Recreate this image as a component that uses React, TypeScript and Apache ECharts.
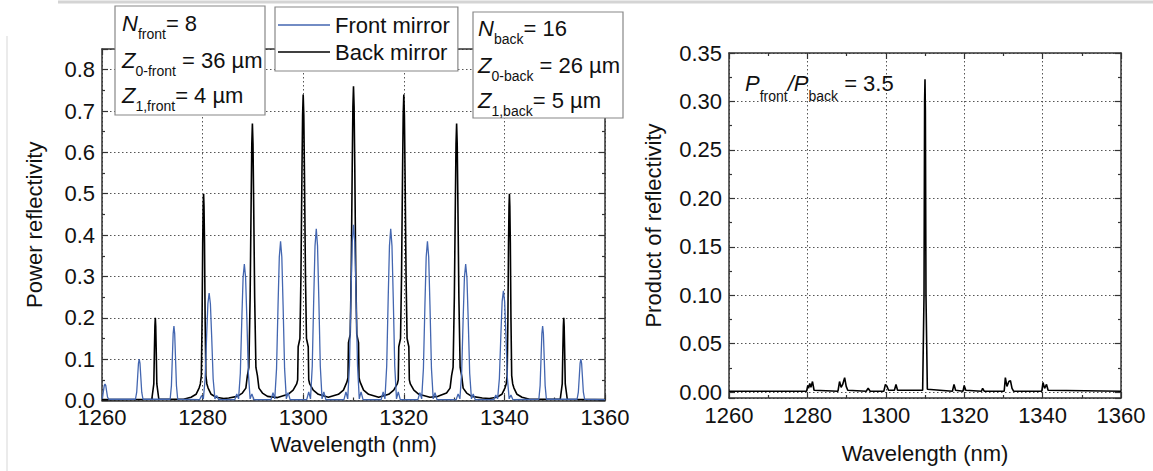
import React, { useEffect, useRef } from 'react';
import * as echarts from 'echarts';

// Wavelength axis (nm)
const wavelengthMin = 1260;
const wavelengthMax = 1360;
const wavelengthStep = 20;

// Front mirror power reflectivity [wavelength nm, reflectivity]
const frontMirror: [number, number][] = [
  [1260.0, 0.004], [1260.1, 0.008], [1260.3, 0.024], [1260.45, 0.036], [1260.6, 0.04], [1260.75, 0.036], [1260.9, 0.024], [1261.1, 0.008], [1261.35, 0.003],
  [1266.65, 0.003], [1266.9, 0.02], [1267.1, 0.06], [1267.25, 0.09], [1267.4, 0.1], [1267.55, 0.09], [1267.7, 0.06], [1267.9, 0.02], [1268.15, 0.003],
  [1273.55, 0.003], [1273.8, 0.036], [1274.0, 0.108], [1274.15, 0.162], [1274.3, 0.18], [1274.45, 0.162], [1274.6, 0.108], [1274.8, 0.036], [1275.05, 0.003],
  [1279.4, 0.002], [1279.8, 0.012], [1280.15, 0.004], [1280.5, 0.052], [1280.8, 0.156], [1281.05, 0.234], [1281.3, 0.26], [1281.55, 0.234], [1281.8, 0.156], [1282.1, 0.052], [1282.45, 0.004], [1282.8, 0.012], [1283.2, 0.002],
  [1286.4, 0.002], [1286.8, 0.016], [1287.15, 0.004], [1287.5, 0.066], [1287.8, 0.198], [1288.05, 0.297], [1288.3, 0.33], [1288.55, 0.297], [1288.8, 0.198], [1289.1, 0.066], [1289.45, 0.004], [1289.8, 0.016], [1290.2, 0.002],
  [1293.6, 0.002], [1294.0, 0.019], [1294.35, 0.004], [1294.7, 0.077], [1295.0, 0.231], [1295.25, 0.347], [1295.5, 0.385], [1295.75, 0.347], [1296.0, 0.231], [1296.3, 0.077], [1296.65, 0.004], [1297.0, 0.019], [1297.4, 0.002],
  [1300.7, 0.002], [1301.1, 0.021], [1301.45, 0.004], [1301.8, 0.083], [1302.1, 0.249], [1302.35, 0.374], [1302.6, 0.415], [1302.85, 0.374], [1303.1, 0.249], [1303.4, 0.083], [1303.75, 0.004], [1304.1, 0.021], [1304.5, 0.002],
  [1308.1, 0.002], [1308.5, 0.021], [1308.85, 0.004], [1309.2, 0.085], [1309.5, 0.255], [1309.75, 0.383], [1310.0, 0.425], [1310.25, 0.383], [1310.5, 0.255], [1310.8, 0.085], [1311.15, 0.004], [1311.5, 0.021], [1311.9, 0.002],
  [1315.5, 0.002], [1315.9, 0.021], [1316.25, 0.004], [1316.6, 0.083], [1316.9, 0.249], [1317.15, 0.374], [1317.4, 0.415], [1317.65, 0.374], [1317.9, 0.249], [1318.2, 0.083], [1318.55, 0.004], [1318.9, 0.021], [1319.3, 0.002],
  [1322.8, 0.002], [1323.2, 0.019], [1323.55, 0.004], [1323.9, 0.077], [1324.2, 0.231], [1324.45, 0.347], [1324.7, 0.385], [1324.95, 0.347], [1325.2, 0.231], [1325.5, 0.077], [1325.85, 0.004], [1326.2, 0.019], [1326.6, 0.002],
  [1330.4, 0.002], [1330.8, 0.016], [1331.15, 0.004], [1331.5, 0.066], [1331.8, 0.198], [1332.05, 0.297], [1332.3, 0.33], [1332.55, 0.297], [1332.8, 0.198], [1333.1, 0.066], [1333.45, 0.004], [1333.8, 0.016], [1334.2, 0.002],
  [1337.9, 0.002], [1338.3, 0.013], [1338.65, 0.004], [1339.0, 0.053], [1339.3, 0.159], [1339.55, 0.239], [1339.8, 0.265], [1340.05, 0.239], [1340.3, 0.159], [1340.6, 0.053], [1340.95, 0.004], [1341.3, 0.013], [1341.7, 0.002],
  [1346.85, 0.003], [1347.1, 0.036], [1347.3, 0.108], [1347.45, 0.162], [1347.6, 0.18], [1347.75, 0.162], [1347.9, 0.108], [1348.1, 0.036], [1348.35, 0.003],
  [1354.45, 0.003], [1354.7, 0.02], [1354.9, 0.06], [1355.05, 0.09], [1355.2, 0.1], [1355.35, 0.09], [1355.5, 0.06], [1355.7, 0.02], [1355.95, 0.003],
  [1360.0, 0.002],
];

// Back mirror power reflectivity [wavelength nm, reflectivity]
const backMirror: [number, number][] = [
  [1260.0, 0.002],
  [1269.9, 0.003], [1270.3, 0.04], [1270.42, 0.12], [1270.52, 0.18], [1270.6, 0.2], [1270.68, 0.18], [1270.78, 0.12], [1270.9, 0.04], [1271.3, 0.003],
  [1276.2, 0.003], [1277.7, 0.008], [1278.7, 0.015], [1279.3, 0.03], [1279.55, 0.04], [1279.75, 0.06], [1279.9, 0.2], [1280.02, 0.38], [1280.12, 0.47], [1280.2, 0.5], [1280.28, 0.47], [1280.38, 0.38], [1280.5, 0.2], [1280.65, 0.06], [1280.85, 0.04], [1281.1, 0.03], [1281.7, 0.015], [1282.7, 0.008], [1284.2, 0.005],
  [1285.2, 0.006], [1286.9, 0.01], [1287.9, 0.018], [1288.6, 0.03], [1288.9, 0.06], [1289.2, 0.08], [1289.45, 0.25], [1289.65, 0.48], [1289.78, 0.62], [1289.9, 0.67], [1290.02, 0.62], [1290.15, 0.48], [1290.35, 0.25], [1290.6, 0.08], [1290.9, 0.06], [1291.2, 0.03], [1291.9, 0.018], [1292.9, 0.01], [1294.9, 0.007],
  [1297.0, 0.015], [1298.0, 0.025], [1298.7, 0.04], [1298.9, 0.05], [1299.0, 0.13], [1299.35, 0.15], [1299.55, 0.3], [1299.75, 0.55], [1299.88, 0.69], [1300.0, 0.74], [1300.12, 0.69], [1300.25, 0.55], [1300.45, 0.3], [1300.65, 0.15], [1301.0, 0.13], [1301.1, 0.05], [1301.3, 0.04], [1302.0, 0.025], [1303.0, 0.015], [1305.0, 0.008],
  [1307.0, 0.015], [1308.0, 0.025], [1308.7, 0.045], [1308.9, 0.055], [1309.0, 0.14], [1309.35, 0.16], [1309.55, 0.31], [1309.75, 0.57], [1309.88, 0.71], [1310.0, 0.76], [1310.12, 0.71], [1310.25, 0.57], [1310.45, 0.31], [1310.65, 0.16], [1311.0, 0.14], [1311.1, 0.055], [1311.3, 0.045], [1312.0, 0.025], [1313.0, 0.015], [1315.0, 0.008],
  [1317.0, 0.015], [1318.0, 0.025], [1318.7, 0.04], [1318.9, 0.05], [1319.0, 0.13], [1319.35, 0.15], [1319.55, 0.3], [1319.75, 0.55], [1319.88, 0.69], [1320.0, 0.74], [1320.12, 0.69], [1320.25, 0.55], [1320.45, 0.3], [1320.65, 0.15], [1321.0, 0.13], [1321.1, 0.05], [1321.3, 0.04], [1322.0, 0.025], [1323.0, 0.015], [1325.2, 0.008],
  [1326.8, 0.01], [1328.5, 0.018], [1329.2, 0.03], [1329.5, 0.06], [1329.8, 0.08], [1330.05, 0.25], [1330.25, 0.48], [1330.38, 0.62], [1330.5, 0.67], [1330.62, 0.62], [1330.75, 0.48], [1330.95, 0.25], [1331.2, 0.08], [1331.5, 0.06], [1331.8, 0.03], [1332.5, 0.018], [1333.5, 0.01], [1335.6, 0.006],
  [1337.0, 0.005], [1338.5, 0.008], [1339.5, 0.015], [1340.1, 0.03], [1340.35, 0.04], [1340.55, 0.06], [1340.7, 0.2], [1340.82, 0.38], [1340.92, 0.47], [1341.0, 0.5], [1341.08, 0.47], [1341.18, 0.38], [1341.3, 0.2], [1341.45, 0.06], [1341.65, 0.04], [1341.9, 0.03], [1342.5, 0.015], [1343.5, 0.008], [1345.0, 0.003],
  [1351.1, 0.003], [1351.5, 0.04], [1351.62, 0.12], [1351.72, 0.18], [1351.8, 0.2], [1351.88, 0.18], [1351.98, 0.12], [1352.1, 0.04], [1352.5, 0.003],
  [1360.0, 0.002],
];

// Product of reflectivity [wavelength nm, product]
const productReflectivity: [number, number][] = [
  [1260.0, 0.001], [1279.8, 0.001], [1280.1, 0.007], [1280.3, 0.004], [1280.6, 0.009], [1280.9, 0.005], [1281.3, 0.011], [1281.7, 0.002],
  [1287.8, 0.001], [1288.2, 0.011], [1288.6, 0.005], [1289.0, 0.008], [1289.5, 0.015], [1289.9, 0.006], [1290.3, 0.002],
  [1295.0, 0.001], [1295.5, 0.004], [1296.0, 0.001],
  [1299.5, 0.001], [1299.9, 0.008], [1300.3, 0.006], [1300.7, 0.002], [1302.2, 0.002], [1302.6, 0.008], [1303.0, 0.002],
  [1309.4, 0.002], [1309.75, 0.1], [1309.9, 0.3], [1310.0, 0.323], [1310.1, 0.29], [1310.25, 0.1], [1310.6, 0.003],
  [1317.0, 0.001], [1317.4, 0.008], [1317.8, 0.002], [1319.7, 0.001], [1320.0, 0.007], [1320.4, 0.002],
  [1324.4, 0.001], [1324.7, 0.004], [1325.1, 0.001],
  [1330.2, 0.001], [1330.5, 0.015], [1330.9, 0.006], [1331.4, 0.011], [1331.8, 0.012], [1332.2, 0.004], [1332.6, 0.001],
  [1339.8, 0.001], [1340.1, 0.01], [1340.5, 0.004], [1341.0, 0.008], [1341.4, 0.002], [1360.0, 0.001],
];

const seriesNames = ['Front mirror', 'Back mirror'];
const frontParams = ['{it|N}{sub|front}{n|= 8}', '{it|Z}{sub|0-front}{n| = 36 µm}', '{it|Z}{sub|1,front}{n|= 4 µm}'];
const backParams = ['{it|N}{sub|back}{n|= 16}', '{it|Z}{sub|0-back}{n| = 26 µm}', '{it|Z}{sub|1,back}{n|= 5 µm}'];
const powerRatioText = '{it|P}{subp|front}{it|/P}{subp|back}{n| = 3.5}';

const FONT = "'Liberation Sans', Arial, Helvetica, sans-serif";
const INK = '#111';
const FRAME = '#333';
const BLUE = '#4366b0';

const rich = {
  n: { fontSize: 22, fontFamily: FONT, fill: INK, color: INK },
  it: { fontSize: 22, fontFamily: FONT, fontStyle: 'italic', fill: INK, color: INK },
  sub: { fontSize: 14, fontFamily: FONT, fill: INK, color: INK, padding: [22, 0, 0, 0] },
  subp: { fontSize: 14, fontFamily: FONT, fill: INK, color: INK, padding: [26, 0, 0, 0] },
};

const axisLine = { show: true, onZero: false, lineStyle: { color: FRAME, width: 1.5 } };
const axisTick = { show: true, inside: true, length: 6, lineStyle: { color: FRAME, width: 1.2 } };
const minorTick = { show: true, inside: true, splitNumber: 2, length: 3, lineStyle: { color: FRAME, width: 1.2 } };
const gridLine = { show: true, lineStyle: { color: '#555', width: 1, type: [1.5, 2.5] } };
const labelStyle = { fontSize: 22, color: INK, fontFamily: FONT };

function xAxes(gridIndex: number, nameGap: number) {
  const common = {
    type: 'value',
    gridIndex,
    min: wavelengthMin,
    max: wavelengthMax,
    interval: wavelengthStep,
    axisLine,
    axisTick,
    minorTick,
  };
  return [
    {
      ...common,
      position: 'bottom',
      name: 'Wavelength (nm)',
      nameLocation: 'middle',
      nameGap,
      nameTextStyle: labelStyle,
      axisLabel: { ...labelStyle, margin: 6, formatter: (v: number) => String(v) },
      splitLine: gridLine,
    },
    { ...common, position: 'top', axisLabel: { show: false }, splitLine: { show: false } },
  ];
}

function yAxes(gridIndex: number, cfg: any, name: string, nameGap: number, fmt: (v: number) => string) {
  const common = { type: 'value', gridIndex, ...cfg, axisLine, axisTick, minorTick };
  return [
    {
      ...common,
      position: 'left',
      name,
      nameLocation: 'middle',
      nameRotate: 90,
      nameGap,
      nameTextStyle: labelStyle,
      axisLabel: { ...labelStyle, margin: 7, formatter: fmt },
      splitLine: gridLine,
    },
    { ...common, position: 'right', axisLabel: { show: false }, splitLine: { show: false } },
  ];
}

function paramTexts(lines: string[], x: number, ys: number[]) {
  return lines.map((t, i) => ({
    type: 'text',
    x,
    y: ys[i],
    z: 101,
    style: { text: t, rich, fill: INK, verticalAlign: 'middle', align: 'left', fontFamily: FONT, fontSize: 22 },
  }));
}

const option: any = {
  animation: false,
  backgroundColor: '#fff',
  textStyle: { fontFamily: FONT },
  grid: [
    { left: 102, top: 49, width: 503, height: 351.5 },
    { left: 729, top: 53, width: 392, height: 345 },
  ],
  xAxis: [...xAxes(0, 30), ...xAxes(1, 44)],
  yAxis: [
    ...yAxes(0, { min: 0, max: 0.85, interval: 0.1 }, 'Power reflectivity', 57, (v: number) =>
      Math.abs(v * 10 - Math.round(v * 10)) < 1e-6 ? v.toFixed(1) : ''),
    ...yAxes(1, { min: -0.006, max: 0.35, minInterval: 0.05, maxInterval: 0.05, splitNumber: 7 }, 'Product of reflectivity', 65, (v: number) =>
      v < -1e-9 ? '' : v.toFixed(2)),
  ],
  legend: {
    data: seriesNames,
    orient: 'vertical',
    left: 275,
    top: 7,
    padding: [7, 8, 8, 3],
    itemGap: 5,
    itemWidth: 52,
    itemHeight: 1.5,
    icon: 'rect',
    backgroundColor: '#fff',
    borderColor: '#888',
    borderWidth: 1.2,
    textStyle: { fontSize: 22, color: INK, fontFamily: FONT },
    z: 100,
  },
  series: [
    {
      name: seriesNames[1],
      type: 'line',
      xAxisIndex: 0,
      yAxisIndex: 0,
      data: backMirror,
      symbol: 'none',
      showSymbol: false,
      lineStyle: { color: '#000', width: 1.6 },
      itemStyle: { color: '#000' },
      z: 3,
    },
    {
      name: seriesNames[0],
      type: 'line',
      xAxisIndex: 0,
      yAxisIndex: 0,
      data: frontMirror,
      symbol: 'none',
      showSymbol: false,
      lineStyle: { color: BLUE, width: 1.3 },
      itemStyle: { color: BLUE },
      z: 4,
    },
    {
      name: 'Product of reflectivity',
      type: 'line',
      xAxisIndex: 2,
      yAxisIndex: 2,
      data: productReflectivity,
      symbol: 'none',
      showSymbol: false,
      lineStyle: { color: '#000', width: 1.6 },
      itemStyle: { color: '#000' },
      z: 3,
    },
  ],
  graphic: [
    { type: 'line', z: 1, shape: { x1: 58, y1: 2, x2: 1153, y2: 2 }, style: { stroke: '#d4d4d4', lineWidth: 3 } },
    { type: 'line', z: 1, shape: { x1: 7, y1: 36, x2: 7, y2: 471 }, style: { stroke: '#e4e4e4', lineWidth: 1.5 } },
    { type: 'rect', z: 100, shape: { x: 115, y: 6, width: 150, height: 109 }, style: { fill: '#fff', stroke: '#888', lineWidth: 1.2 } },
    ...paramTexts(frontParams, 122, [23, 60, 95]),
    { type: 'rect', z: 100, shape: { x: 473, y: 12, width: 150, height: 106 }, style: { fill: '#fff', stroke: '#888', lineWidth: 1.2 } },
    ...paramTexts(backParams, 478, [28, 65, 100]),
    ...paramTexts([powerRatioText], 745, [83]),
  ],
};

export default function App() {
  const ref = useRef<HTMLDivElement>(null);
  useEffect(() => {
    if (!ref.current) return;
    const chart = echarts.init(ref.current, null, { renderer: 'svg' });
    chart.setOption(option);
    return () => chart.dispose();
  }, []);
  return (
    <div
      ref={ref}
      style={{ position: 'absolute', left: 0, top: 0, width: 1153, height: 471, background: '#fff' }}
    />
  );
}
